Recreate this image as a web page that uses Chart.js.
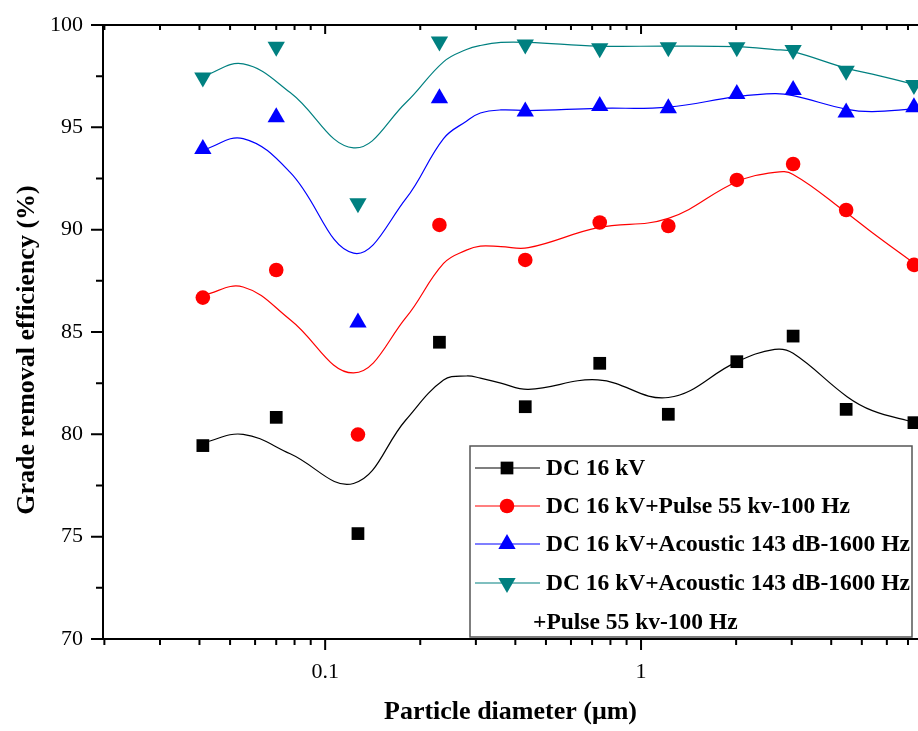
<!DOCTYPE html>
<html>
<head>
<meta charset="utf-8">
<script src="https://cdn.jsdelivr.net/npm/chart.js@4.4.1/dist/chart.umd.min.js"></script>
<style>
  body { margin: 0; background: #fff; }
  canvas { display: block; }
</style>
</head>
<body>
<canvas id="grade-chart" width="918" height="731"></canvas>
<script>
// measured points (particle diameter in um, efficiency in %)
var diameters = [0.041, 0.07, 0.127, 0.23, 0.43, 0.74, 1.22, 2.01, 3.03, 4.46, 7.31];
var dc16 = [79.45, 80.83, 75.15, 84.5, 81.35, 83.47, 80.98, 83.55, 84.8, 81.22, 80.57];
var dcPulse = [86.68, 88.03, 79.99, 90.23, 88.52, 90.35, 90.18, 92.43, 93.21, 90.96, 88.28];
var dcAcoustic = [93.94, 95.49, 85.46, 96.42, 95.77, 96.04, 95.93, 96.63, 96.82, 95.72, 95.98];
var dcAcousticPulse = [97.43, 98.94, 91.29, 99.19, 99.05, 98.86, 98.91, 98.91, 98.78, 97.77, 97.07];

// fitted curves
var fitX = [0.0412, 0.055, 0.0775, 0.123, 0.18, 0.237, 0.28, 0.31, 0.36, 0.44, 0.73, 1.22, 2.01, 2.65, 3.03, 4.49, 5.4, 7.31];
var fitDc16 = [79.6, 80.0, 79.05, 77.6, 80.7, 82.65, 82.85, 82.75, 82.5, 82.2, 82.66, 81.8, 83.54, 84.15, 83.96, 81.84, 81.16, 80.59];
var fitDcPulse = [86.8, 87.2, 85.6, 83.0, 85.7, 88.35, 89.0, 89.2, 89.17, 89.12, 90.1, 90.55, 92.34, 92.8, 92.7, 90.8, 89.85, 88.36];
var fitDcAcoustic = [93.9, 94.45, 92.8, 88.85, 91.5, 94.45, 95.3, 95.7, 95.85, 95.82, 95.93, 95.99, 96.5, 96.65, 96.55, 95.88, 95.77, 95.9];
var fitDcAcousticPulse = [97.5, 98.1, 96.7, 94.0, 96.2, 98.2, 98.8, 99.0, 99.15, 99.15, 98.97, 98.97, 98.94, 98.8, 98.7, 97.88, 97.6, 97.1];

var seriesLabels = [
  'DC 16 kV',
  'DC 16 kV+Pulse 55 kv-100 Hz',
  'DC 16 kV+Acoustic 143 dB-1600 Hz',
  ['DC 16 kV+Acoustic 143 dB-1600 Hz', '+Pulse 55 kv-100 Hz']
];
var xTickValues = [0.1, 1];
var xTickLabels = ['0.1', '1'];
var yTicks = [70, 75, 80, 85, 90, 95, 100];

var colors = ['#000000', '#ff0000', '#0000ff', '#008080'];
var markers = [
  { pointStyle: 'rect', radius: 9, rotation: 0 },
  { pointStyle: 'circle', radius: 7.3, rotation: 0 },
  { pointStyle: 'triangle', radius: 10, rotation: 0 },
  { pointStyle: 'triangle', radius: 10, rotation: 180 }
];
var serif = 'Liberation Serif, Times New Roman, serif';

function toPoints(xs, ys) {
  return xs.map(function(x, i) { return { x: x, y: ys[i] }; });
}

var pointSets = [dc16, dcPulse, dcAcoustic, dcAcousticPulse];
var fitSets = [fitDc16, fitDcPulse, fitDcAcoustic, fitDcAcousticPulse];
var datasets = [];

fitSets.forEach(function(ys, i) {
  datasets.push({
    label: 'fit ' + i,
    data: toPoints(fitX, ys),
    borderColor: colors[i],
    borderWidth: 1.2,
    pointRadius: 0,
    fill: false,
    tension: 0.4
  });
});
pointSets.forEach(function(ys, i) {
  datasets.push({
    label: Array.isArray(seriesLabels[i]) ? seriesLabels[i].join(' ') : seriesLabels[i],
    data: toPoints(diameters, ys),
    showLine: false,
    clip: false,
    pointStyle: markers[i].pointStyle,
    pointRadius: markers[i].radius,
    pointRotation: markers[i].rotation,
    pointBackgroundColor: colors[i],
    pointBorderColor: colors[i],
    pointBorderWidth: 0
  });
});

// axes frame, tick marks, y title and the boxed legend
var decorations = {
  id: 'decorations',
  afterDraw: function(chart) {
    var ctx = chart.ctx, a = chart.chartArea;
    var xs = chart.scales.x, ys = chart.scales.y;
    ctx.save();
    ctx.strokeStyle = '#000';
    ctx.lineWidth = 2;
    ctx.beginPath();
    ctx.moveTo(a.right + 2, a.top); ctx.lineTo(a.left, a.top);
    ctx.lineTo(a.left, a.bottom); ctx.lineTo(a.right + 2, a.bottom);
    ctx.stroke();

    ctx.beginPath();
    // y ticks (outward)
    yTicks.forEach(function(v) {
      var py = ys.getPixelForValue(v);
      ctx.moveTo(a.left, py); ctx.lineTo(a.left - 12, py);
      if (v < 100) {
        var pm = ys.getPixelForValue(v + 2.5);
        ctx.moveTo(a.left, pm); ctx.lineTo(a.left - 7, pm);
      }
    });
    // x ticks, log decades
    for (var e = -2; e <= 0; e++) {
      for (var m = 1; m <= 9; m++) {
        var v = m * Math.pow(10, e);
        if (v < xs.min || v > xs.max) continue;
        var px = xs.getPixelForValue(v);
        var len = m === 1 ? 11 : 6;
        ctx.moveTo(px, a.bottom); ctx.lineTo(px, a.bottom + len);
        ctx.moveTo(px, a.top); ctx.lineTo(px, a.top + (m === 1 ? 9 : 5));
      }
    }
    ctx.stroke();

    // y title
    ctx.save();
    ctx.translate(27, 350);
    ctx.rotate(-Math.PI / 2);
    ctx.font = 'bold 26px ' + serif;
    ctx.fillStyle = '#000';
    ctx.textAlign = 'center';
    ctx.textBaseline = 'middle';
    ctx.fillText('Grade removal efficiency (%)', 0, 0);
    ctx.restore();

    // legend
    var bx = 470, by = 446, bw = 442, bh = 191;
    ctx.fillStyle = '#fff';
    ctx.fillRect(bx, by, bw, bh);
    ctx.strokeStyle = '#555';
    ctx.lineWidth = 1.5;
    ctx.strokeRect(bx, by, bw, bh);
    var rows = [468, 506, 544, 583];
    ctx.font = 'bold 23.5px ' + serif;
    ctx.textBaseline = 'middle';
    ctx.textAlign = 'left';
    seriesLabels.forEach(function(lbl, i) {
      var ry = rows[i];
      ctx.strokeStyle = colors[i];
      ctx.lineWidth = 1.2;
      ctx.beginPath();
      ctx.moveTo(475, ry); ctx.lineTo(540, ry);
      ctx.stroke();
      ctx.fillStyle = colors[i];
      Chart.helpers.drawPoint(ctx, {
        pointStyle: markers[i].pointStyle,
        radius: markers[i].radius,
        rotation: markers[i].rotation,
        borderWidth: 0
      }, 507, ry);
      ctx.fillStyle = '#000';
      var lines = Array.isArray(lbl) ? lbl : [lbl];
      ctx.fillText(lines[0], 546, ry + 1);
      if (lines[1]) ctx.fillText(lines[1], 533, ry + 40);
    });
    ctx.restore();
  }
};

var ctx = document.getElementById('grade-chart').getContext('2d');
var gradeChart = new Chart(ctx, {
  type: 'line',
  data: { datasets: datasets },
  plugins: [decorations],
  options: {
    responsive: false,
    animation: false,
    layout: { autoPadding: false, padding: { top: 25, left: 0, right: 0, bottom: 0 } },
    plugins: {
      legend: { display: false },
      tooltip: { enabled: false }
    },
    scales: {
      x: {
        type: 'logarithmic',
        min: 0.0198,
        max: 7.53,
        afterFit: function(s) {
          s.height = 92;
          s.paddingLeft = 0;
          s.paddingRight = 0;
        },
        grid: { display: false, drawTicks: false },
        border: { display: false },
        ticks: {
          autoSkip: false,
          maxRotation: 0,
          padding: 20,
          color: '#000',
          font: { family: serif, size: 22 },
          callback: function(value) {
            for (var i = 0; i < xTickValues.length; i++) {
              if (Math.abs(value - xTickValues[i]) < xTickValues[i] * 1e-6) return xTickLabels[i];
            }
            return '';
          }
        },
        title: {
          display: true,
          text: 'Particle diameter (\u03bcm)',
          color: '#000',
          font: { family: serif, size: 26, weight: 'bold' },
          padding: { top: 0, bottom: 3 }
        }
      },
      y: {
        min: 70,
        max: 100,
        afterFit: function(s) {
          s.width = 103;
          s.paddingTop = 0;
          s.paddingBottom = 0;
        },
        grid: { display: false, drawTicks: false },
        border: { display: false },
        afterBuildTicks: function(s) {
          s.ticks = yTicks.map(function(v) { return { value: v }; });
        },
        ticks: {
          padding: 20,
          color: '#000',
          font: { family: serif, size: 22 }
        }
      }
    }
  }
});
</script>
</body>
</html>
